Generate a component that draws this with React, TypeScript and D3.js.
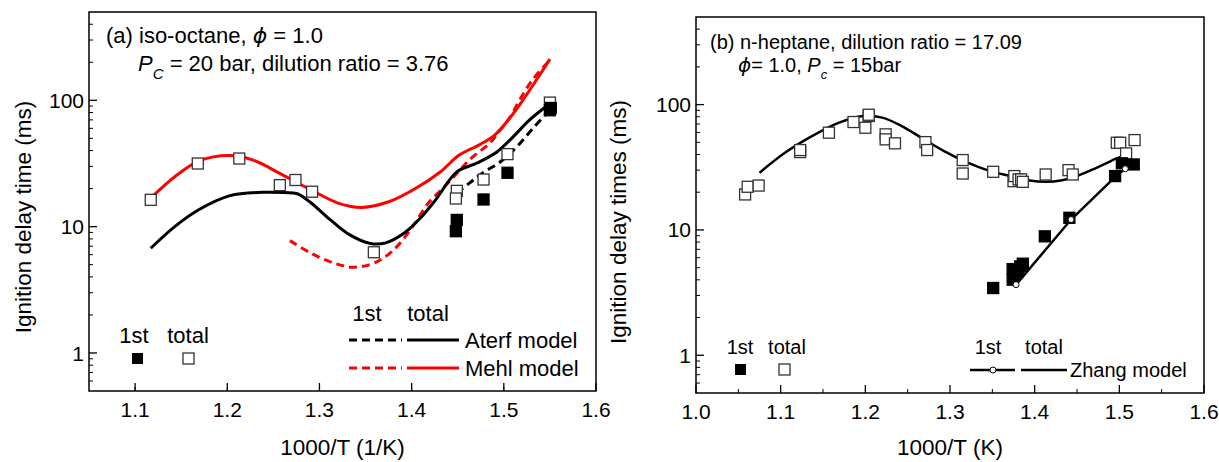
import React from "react";
import * as d3 from "d3";

type P = [number, number];

// ---------- Panel (a) iso-octane ----------
const xTicksA = [1.1, 1.2, 1.3, 1.4, 1.5, 1.6];
const yTicks = [1, 10, 100];

const isoTotalExp: P[] = [
  [1.117, 16.3], [1.168, 31.6], [1.213, 34.6], [1.257, 21.3], [1.274, 23.4],
  [1.292, 18.9], [1.359, 6.27], [1.449, 19.2], [1.448, 16.7], [1.478, 23.6],
  [1.504, 37.5], [1.55, 95.9],
];
const isoFirstExp: P[] = [
  [1.449, 11.3], [1.448, 9.2], [1.478, 16.4], [1.504, 26.7], [1.55, 83.4], [1.551, 87],
];
const aterfTotal: P[] = [
  [1.117, 6.74], [1.143, 10], [1.169, 13.6], [1.203, 17.6], [1.238, 18.7], [1.262, 18.6],
  [1.276, 18.2], [1.29, 15.6], [1.312, 11.3], [1.333, 8.6], [1.354, 7.4], [1.371, 7.4],
  [1.392, 8.9], [1.409, 11.6], [1.426, 16.3], [1.449, 27.1], [1.471, 31.9], [1.4925, 39],
  [1.51, 51.3], [1.528, 70], [1.548, 91.8],
];
const aterfFirst: P[] = [
  [1.449, 18.5], [1.463, 22.2], [1.477, 26.6], [1.496, 32.5], [1.514, 42.8], [1.532, 60.4], [1.548, 80.9],
];
const mehlTotal: P[] = [
  [1.117, 16.8], [1.143, 24.8], [1.169, 33], [1.202, 36.5], [1.228, 33.6], [1.257, 26.4],
  [1.291, 19.5], [1.321, 15.3], [1.346, 14.2], [1.376, 15.8], [1.405, 20.2], [1.431, 27.1],
  [1.452, 37], [1.475, 45], [1.49, 53], [1.505, 70], [1.521, 101], [1.539, 159], [1.55, 212],
];
const mehlFirst: P[] = [
  [1.268, 7.75], [1.291, 6.16], [1.316, 5.14], [1.335, 4.78], [1.354, 4.98], [1.369, 5.62],
  [1.384, 6.95], [1.401, 10], [1.418, 15.3], [1.435, 20.5], [1.445, 24.5], [1.455, 29.5],
  [1.465, 35], [1.485, 46], [1.496, 58], [1.507, 74], [1.517, 100], [1.531, 145], [1.548, 201],
];

// ---------- Panel (b) n-heptane ----------
const xTicksB = [1.0, 1.1, 1.2, 1.3, 1.4, 1.5, 1.6];

const heptTotalExp: P[] = [
  [1.058, 19.2], [1.061, 22.1], [1.074, 22.6], [1.123, 41.8], [1.123, 43.4], [1.157, 59.7],
  [1.186, 72.6], [1.2, 65.4], [1.204, 81.2], [1.204, 83], [1.224, 57.9], [1.224, 52.8],
  [1.235, 49.1], [1.271, 50.2], [1.273, 43.4], [1.315, 36.1], [1.315, 28.2], [1.351, 29.1],
  [1.375, 24.5], [1.376, 26.9], [1.381, 25.3], [1.384, 25.3], [1.386, 24.2], [1.413, 27.7],
  [1.44, 30], [1.445, 27.7], [1.497, 49.6], [1.501, 49.6], [1.518, 52.1], [1.508, 40.8],
];
const heptFirstExp: P[] = [
  [1.351, 3.44], [1.374, 4.87], [1.374, 4.01], [1.376, 4.4], [1.38, 4.67], [1.383, 5.12],
  [1.386, 5.38], [1.412, 8.89], [1.441, 12.5], [1.495, 26.9], [1.503, 34], [1.517, 33.3],
];
const zhangTotal: P[] = [
  [1.075, 28.6], [1.105, 41.3], [1.137, 56.1], [1.169, 71.8], [1.197, 81.2], [1.22, 78.7],
  [1.243, 67.4], [1.266, 54.5], [1.293, 42.6], [1.321, 34.4], [1.344, 30], [1.371, 26.9],
  [1.394, 24.8], [1.413, 24.2], [1.431, 24.8], [1.45, 26.9], [1.473, 31.3], [1.496, 37], [1.502, 38.5],
];
const zhangFirst: P[] = [[1.378, 3.66], [1.443, 12.1], [1.496, 26.9], [1.507, 30.8]];
const zhangFirstMarks: P[] = [[1.378, 3.66], [1.443, 12.1], [1.507, 30.8]];

const FONT = "'Liberation Sans', Arial, Helvetica, sans-serif";
const PHI = "\u03D5";

interface Box { x0: number; x1: number; y0: number; y1: number; xd: [number, number]; }

function Axes({ b, xTicks, tickFont, xTitle, yTitle, yTitleX, yTitleY }: {
  b: Box; xTicks: number[]; tickFont: number; xTitle: string; yTitle: string; yTitleX: number; yTitleY: number;
}) {
  const x = d3.scaleLinear().domain(b.xd).range([b.x0, b.x1]);
  const y = d3.scaleLog().domain([0.5, 500]).range([b.y1, b.y0]);
  const minorY: number[] = [];
  [0.1, 1, 10, 100].forEach((d) => {
    for (let k = 2; k <= 9; k++) {
      const v = k * d;
      if (v > 0.5 && v < 500) minorY.push(v);
    }
  });
  const minorX: number[] = [];
  for (let v = b.xd[0] + 0.05; v < b.xd[1] - 0.01; v += 0.1) minorX.push(+v.toFixed(2));
  return (
    <g>
      <rect x={b.x0} y={b.y0} width={b.x1 - b.x0} height={b.y1 - b.y0} fill="none" stroke="#000" strokeWidth={1.5} />
      {yTicks.map((t) => (
        <g key={"y" + t}>
          <line x1={b.x0} x2={b.x0 + 8} y1={y(t)} y2={y(t)} stroke="#000" strokeWidth={1.3} />
          <text x={b.x0 - 5} y={y(t) + tickFont * 0.36} textAnchor="end" fontSize={tickFont} fontFamily={FONT}>{t}</text>
        </g>
      ))}
      {minorY.map((t) => (
        <line key={"my" + t} x1={b.x0} x2={b.x0 + 4} y1={y(t)} y2={y(t)} stroke="#000" strokeWidth={1} />
      ))}
      {xTicks.map((t) => (
        <g key={"x" + t}>
          <line x1={x(t)} x2={x(t)} y1={b.y1} y2={b.y1 - 8} stroke="#000" strokeWidth={1.3} />
          <text x={x(t)} y={b.y1 + 26} textAnchor="middle" fontSize={tickFont} fontFamily={FONT}>{t.toFixed(1)}</text>
        </g>
      ))}
      {minorX.map((t) => (
        <line key={"mx" + t} x1={x(t)} x2={x(t)} y1={b.y1} y2={b.y1 - 4} stroke="#000" strokeWidth={1} />
      ))}
      <text x={(b.x0 + b.x1) / 2} y={455} textAnchor="middle" fontSize={22.5} fontFamily={FONT}>{xTitle}</text>
      <text transform={`translate(${yTitleX},${yTitleY}) rotate(-90)`} textAnchor="middle" fontSize={22.5} fontFamily={FONT}>{yTitle}</text>
    </g>
  );
}

function Squares({ pts, x, y, filled, size }: { pts: P[]; x: any; y: any; filled: boolean; size: number }) {
  return (
    <g>
      {pts.map((p, i) => (
        <rect key={i} x={x(p[0]) - size / 2} y={y(p[1]) - size / 2} width={size} height={size}
          fill={filled ? "#000" : "#fff"} stroke={filled ? "#000" : "#333"} strokeWidth={1.3} />
      ))}
    </g>
  );
}

export default function App() {
  const bA: Box = { x0: 89, x1: 596, y0: 12, y1: 391, xd: [1.05, 1.6] };
  const bB: Box = { x0: 696, x1: 1204, y0: 17, y1: 393, xd: [1.0, 1.6] };
  const xA = d3.scaleLinear().domain(bA.xd).range([bA.x0, bA.x1]);
  const yA = d3.scaleLog().domain([0.5, 500]).range([bA.y1, bA.y0]);
  const xB = d3.scaleLinear().domain(bB.xd).range([bB.x0, bB.x1]);
  const yB = d3.scaleLog().domain([0.5, 500]).range([bB.y1, bB.y0]);
  const lineA = d3.line<P>().x((d) => xA(d[0])).y((d) => yA(d[1])).curve(d3.curveCatmullRom.alpha(0.5));
  const lineB = d3.line<P>().x((d) => xB(d[0])).y((d) => yB(d[1])).curve(d3.curveCatmullRom.alpha(0.5));
  const lineBLin = d3.line<P>().x((d) => xB(d[0])).y((d) => yB(d[1]));

  return (
    <svg width={1219} height={462} style={{ position: "absolute", left: 0, top: 0, background: "#fff" }}
      fontFamily={FONT}>
      <rect x={0} y={0} width={1219} height={462} fill="#fff" />
      {/* Panel a */}
      <Axes b={bA} xTicks={xTicksA} tickFont={21} xTitle="1000/T (1/K)" yTitle="Ignition delay time (ms)" yTitleX={31} yTitleY={217} />
      <path d={lineA(mehlTotal) || ""} fill="none" stroke="#f00" strokeWidth={3} />
      <path d={lineA(mehlFirst) || ""} fill="none" stroke="#f00" strokeWidth={3} strokeDasharray="8 5" />
      <path d={lineA(aterfTotal) || ""} fill="none" stroke="#000" strokeWidth={3} />
      <path d={lineA(aterfFirst) || ""} fill="none" stroke="#000" strokeWidth={3} strokeDasharray="8 5" />
      <Squares pts={isoTotalExp} x={xA} y={yA} filled={false} size={11} />
      <Squares pts={isoFirstExp} x={xA} y={yA} filled={true} size={11} />
      <text x={106} y={43} fontSize={22} fontFamily={FONT}>(a) iso-octane, <tspan fontStyle="italic" fontFamily="'DejaVu Sans', sans-serif">{PHI}</tspan> = 1.0</text>
      <text x={138} y={71} fontSize={22} fontFamily={FONT}>
        <tspan fontStyle="italic">P</tspan>
        <tspan fontStyle="italic" fontSize={15} dy={8}>C</tspan>
        <tspan dy={-8}> = 20 bar, dilution ratio = 3.76</tspan>
      </text>
      {/* legend a */}
      <text x={134} y={343} fontSize={22} textAnchor="middle">1st</text>
      <text x={188} y={343} fontSize={22} textAnchor="middle">total</text>
      <rect x={132} y={353} width={11} height={11} fill="#000" />
      <rect x={183} y={353} width={11} height={11} fill="#fff" stroke="#333" strokeWidth={1.3} />
      <text x={367} y={321} fontSize={22} textAnchor="middle">1st</text>
      <text x={428} y={321} fontSize={22} textAnchor="middle">total</text>
      <line x1={349} x2={402} y1={340} y2={340} stroke="#000" strokeWidth={3} strokeDasharray="8 5" />
      <line x1={407} x2={459} y1={340} y2={340} stroke="#000" strokeWidth={3} />
      <text x={465} y={348} fontSize={22}>Aterf model</text>
      <line x1={349} x2={402} y1={368} y2={368} stroke="#f00" strokeWidth={3} strokeDasharray="8 5" />
      <line x1={407} x2={459} y1={368} y2={368} stroke="#f00" strokeWidth={3} />
      <text x={465} y={376} fontSize={22}>Mehl model</text>

      {/* Panel b */}
      <Axes b={bB} xTicks={xTicksB} tickFont={21} xTitle="1000/T (K)" yTitle="Ignition delay times (ms)" yTitleX={626} yTitleY={222} />
      <path d={lineB(zhangTotal) || ""} fill="none" stroke="#000" strokeWidth={2.5} />
      <Squares pts={heptTotalExp} x={xB} y={yB} filled={false} size={11} />
      <Squares pts={heptFirstExp} x={xB} y={yB} filled={true} size={11} />
      <path d={lineBLin(zhangFirst) || ""} fill="none" stroke="#000" strokeWidth={2.5} />
      {zhangFirstMarks.map((p, i) => (
        <circle key={i} cx={xB(p[0])} cy={yB(p[1])} r={3} fill="#fff" stroke="#000" strokeWidth={1} />
      ))}
      <text x={710} y={49} fontSize={20}>(b) n-heptane, dilution ratio = 17.09</text>
      <text x={738} y={72} fontSize={20}>
        <tspan fontStyle="italic" fontFamily="'DejaVu Sans', sans-serif">{PHI}</tspan>= 1.0, <tspan fontStyle="italic">P</tspan>
        <tspan fontStyle="italic" fontSize={13} dy={7}>c</tspan>
        <tspan dy={-7}> = 15bar</tspan>
      </text>
      {/* legend b */}
      <text x={740} y={354} fontSize={20} textAnchor="middle">1st</text>
      <text x={787} y={354} fontSize={20} textAnchor="middle">total</text>
      <rect x={735} y={364} width={11} height={11} fill="#000" />
      <rect x={779} y={364} width={11} height={11} fill="#fff" stroke="#333" strokeWidth={1.3} />
      <text x={988} y={354} fontSize={20} textAnchor="middle">1st</text>
      <text x={1044} y={354} fontSize={20} textAnchor="middle">total</text>
      <line x1={970} x2={1015} y1={370} y2={370} stroke="#000" strokeWidth={2.5} />
      <circle cx={993} cy={370} r={3} fill="#fff" stroke="#000" strokeWidth={1} />
      <line x1={1021} x2={1067} y1={370} y2={370} stroke="#000" strokeWidth={2.5} />
      <text x={1070} y={377} fontSize={20}>Zhang model</text>
    </svg>
  );
}
